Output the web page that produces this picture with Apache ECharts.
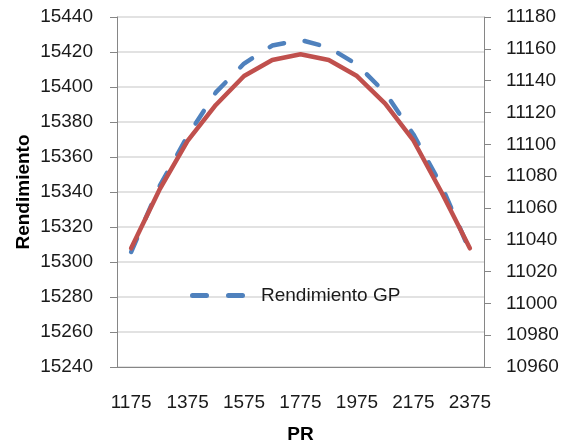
<!DOCTYPE html>
<html>
<head>
<meta charset="utf-8">
<script src="https://cdn.jsdelivr.net/npm/echarts@6/dist/echarts.min.js"></script>
<style>html,body{margin:0;padding:0;background:#fff;}#c{width:571px;height:443px;}</style>
</head>
<body>
<div id="c"></div>
<script>
var categories = ['1175','1275','1375','1475','1575','1675','1775','1875','1975','2075','2175','2275','2375'];
var rendimientoGP = [15305.7, 15343.1, 15372.0, 15396.9, 15413.4, 15423.7, 15426.9, 15422.6, 15412.9, 15396.7, 15372.9, 15343.4, 15306.3];
var rendimiento2 = [11034.6, 11071.3, 11102.1, 11124.7, 11142.9, 11153.0, 11156.6, 11153.0, 11142.9, 11125.6, 11102.4, 11069.7, 11034.6];
var leftTicks = {min: 15240, max: 15440, step: 20};
var rightTicks = {min: 10960, max: 11180, step: 20};

var FONT = 'Liberation Sans, Arial, sans-serif';
function plain(v) { return String(Math.round(v)); }
var chart = echarts.init(document.getElementById('c'), null, {renderer: 'canvas'});
chart.setOption({
  animation: false,
  backgroundColor: '#ffffff',
  grid: {left: 117, right: 87, top: 17, bottom: 76, containLabel: false, outerBoundsMode: 'none'},
  legend: {
    data: [{name: 'Rendimiento GP', icon: 'path://M2.5,0 L16.5,0 A2.5,2.5 0 0 1 16.5,5 L2.5,5 A2.5,2.5 0 0 1 2.5,0 Z M38.5,0 L52.5,0 A2.5,2.5 0 0 1 52.5,5 L38.5,5 A2.5,2.5 0 0 1 38.5,0 Z'}],
    left: 185, top: 281,
    itemWidth: 55, itemHeight: 5,
    itemStyle: {color: '#4F81BD', borderWidth: 0},
    textStyle: {fontFamily: FONT, fontSize: 19, color: '#1a1a1a', padding: [0, 0, 0, 11]}
  },
  xAxis: {
    type: 'category',
    data: categories,
    boundaryGap: true,
    name: 'PR',
    nameLocation: 'middle',
    nameGap: 58,
    nameTextStyle: {fontFamily: FONT, fontSize: 19, fontWeight: 'bold', color: '#000'},
    axisLine: {show: true, lineStyle: {color: '#868686', width: 1}},
    axisTick: {show: false},
    axisLabel: {interval: 1, margin: 26, fontFamily: FONT, fontSize: 19, color: '#1a1a1a'},
    splitLine: {show: false}
  },
  yAxis: [{
    type: 'value',
    position: 'left',
    min: leftTicks.min, max: leftTicks.max, interval: leftTicks.step,
    name: 'Rendimiento',
    nameLocation: 'middle',
    nameGap: 84,
    nameMoveOverlap: false,
    nameRotate: 90,
    nameTextStyle: {fontFamily: FONT, fontSize: 19, fontWeight: 'bold', color: '#000'},
    axisLine: {show: true, lineStyle: {color: '#868686', width: 1}},
    axisTick: {show: true, length: 7, lineStyle: {color: '#868686'}},
    axisLabel: {margin: 24, fontFamily: FONT, fontSize: 19, color: '#1a1a1a', formatter: plain},
    splitLine: {show: true, lineStyle: {color: '#d9d9d9', width: 1.5}}
  }, {
    type: 'value',
    position: 'right',
    min: rightTicks.min, max: rightTicks.max, interval: rightTicks.step,
    axisLine: {show: true, lineStyle: {color: '#868686', width: 1}},
    axisTick: {show: true, length: 7, lineStyle: {color: '#868686'}},
    axisLabel: {margin: 22, fontFamily: FONT, fontSize: 19, color: '#1a1a1a', formatter: plain},
    splitLine: {show: false}
  }],
  series: [{
    name: 'Rendimiento GP',
    type: 'line',
    yAxisIndex: 0,
    data: rendimientoGP,
    symbol: 'none',
    smooth: false,
    z: 2,
    lineStyle: {color: '#4F81BD', width: 4.5, type: [15, 21], cap: 'round', join: 'round'},
    itemStyle: {color: '#4F81BD'}
  }, {
    name: 'Rendimiento',
    type: 'line',
    yAxisIndex: 1,
    data: rendimiento2,
    symbol: 'none',
    smooth: false,
    z: 3,
    lineStyle: {color: '#C0504D', width: 4.5, cap: 'round', join: 'round'},
    itemStyle: {color: '#C0504D'}
  }]
});
</script>
</body>
</html>
